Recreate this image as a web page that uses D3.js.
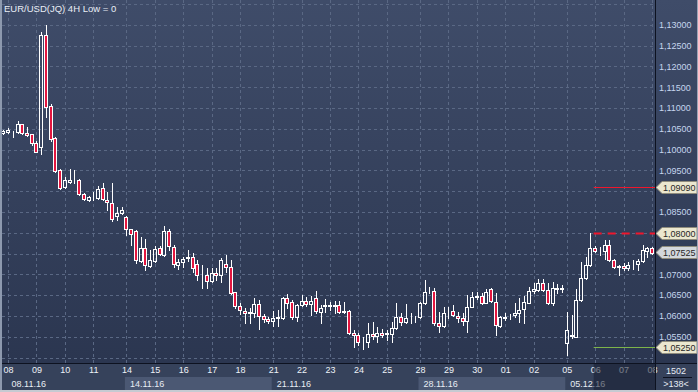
<!DOCTYPE html>
<html><head><meta charset="utf-8">
<script src="https://cdn.jsdelivr.net/npm/d3@7"></script>
<style>html,body{margin:0;padding:0;background:#2e3a55;overflow:hidden}svg{display:block}</style>
</head><body><svg id="c" width="698" height="392"></svg>
<script>
const title = "EUR/USD(JQ) 4H Low = 0";
const sessionDates = ["07.11.16","08.11.16","09.11.16","10.11.16","11.11.16","13.11.16","14.11.16","15.11.16","16.11.16","17.11.16","18.11.16","20.11.16","21.11.16","22.11.16","23.11.16","24.11.16","25.11.16","27.11.16","28.11.16","29.11.16","30.11.16","01.12.16","02.12.16","04.12.16","05.12.16","06.12.16","07.12.16","08.12.16"];
const sessionBars = [1,6,6,6,6,1,6,6,6,6,6,1,6,6,6,6,6,1,6,6,6,6,6,1,6,6,6,1];
const dayTicks = ["08.11.16","09.11.16","10.11.16","11.11.16","14.11.16","15.11.16","16.11.16","17.11.16","18.11.16","21.11.16","22.11.16","23.11.16","24.11.16","25.11.16","28.11.16","29.11.16","30.11.16","01.12.16","02.12.16","05.12.16","06.12.16","07.12.16","08.12.16"];
const weekStarts = ["08.11.16","14.11.16","21.11.16","28.11.16","05.12.16"];
const markDay = "06.12.16";

const open = [1.1040,1.1042,1.1042,1.1041,1.1061,1.1039,1.1037,1.1015,1.1007,1.1275,1.1105,1.1028,1.0951,1.0909,1.0923,1.0924,1.0927,1.0893,1.0879,1.0885,1.0883,1.0907,1.0879,1.0871,1.0840,1.0847,1.0837,1.0808,1.0805,1.0733,1.0763,1.0720,1.0733,1.0763,1.0746,1.0803,1.0766,1.0723,1.0730,1.0740,1.0741,1.0724,1.0698,1.0698,1.0683,1.0702,1.0698,1.0724,1.0717,1.0657,1.0623,1.0613,1.0608,1.0606,1.0629,1.0599,1.0592,1.0588,1.0596,1.0594,1.0642,1.0633,1.0598,1.0626,1.0637,1.0629,1.0642,1.0610,1.0625,1.0625,1.0625,1.0626,1.0610,1.0611,1.0558,1.0554,1.0542,1.0538,1.0557,1.0552,1.0560,1.0557,1.0556,1.0570,1.0597,1.0586,1.0592,1.0594,1.0598,1.0630,1.0660,1.0661,1.0582,1.0575,1.0609,1.0612,1.0600,1.0594,1.0588,1.0622,1.0647,1.0647,1.0632,1.0664,1.0634,1.0576,1.0596,1.0597,1.0603,1.0608,1.0616,1.0632,1.0660,1.0662,1.0678,1.0662,1.0632,1.0665,1.0665,1.0534,1.0552,1.0550,1.0638,1.0690,1.0722,1.0763,1.0756,1.0756,1.0770,1.0734,1.0717,1.0721,1.0714,1.0724,1.0724,1.0733,1.0757,1.0763];
const high = [1.1047,1.1052,1.1045,1.1069,1.1062,1.1055,1.1037,1.1021,1.1282,1.1299,1.1109,1.1029,1.0952,1.0935,1.0953,1.0951,1.0929,1.0895,1.0888,1.0899,1.0913,1.0919,1.0899,1.0919,1.0863,1.0861,1.0840,1.0810,1.0807,1.0789,1.0784,1.0758,1.0768,1.0768,1.0816,1.0810,1.0770,1.0738,1.0742,1.0758,1.0751,1.0734,1.0722,1.0714,1.0714,1.0715,1.0739,1.0746,1.0734,1.0658,1.0630,1.0618,1.0618,1.0642,1.0638,1.0605,1.0597,1.0612,1.0614,1.0645,1.0652,1.0638,1.0628,1.0650,1.0646,1.0648,1.0660,1.0626,1.0640,1.0634,1.0637,1.0636,1.0634,1.0614,1.0566,1.0558,1.0549,1.0584,1.0586,1.0574,1.0568,1.0565,1.0586,1.0630,1.0606,1.0629,1.0606,1.0600,1.0634,1.0686,1.0670,1.0666,1.0610,1.0622,1.0622,1.0626,1.0610,1.0606,1.0650,1.0658,1.0658,1.0654,1.0664,1.0666,1.0654,1.0600,1.0606,1.0605,1.0630,1.0642,1.0648,1.0669,1.0678,1.0688,1.0688,1.0678,1.0682,1.0677,1.0675,1.0609,1.0602,1.0664,1.0730,1.0742,1.0799,1.0768,1.0766,1.0783,1.0783,1.0737,1.0722,1.0727,1.0730,1.0734,1.0738,1.0770,1.0766,1.0766];
const low = [1.1037,1.1039,1.1029,1.1040,1.1037,1.1033,1.1011,1.0993,1.0989,1.1079,1.1021,1.0946,1.0905,1.0907,1.0920,1.0920,1.0891,1.0879,1.0876,1.0879,1.0881,1.0879,1.0855,1.0829,1.0831,1.0845,1.0794,1.0770,1.0726,1.0730,1.0710,1.0717,1.0730,1.0746,1.0744,1.0758,1.0718,1.0712,1.0718,1.0733,1.0706,1.0686,1.0666,1.0667,1.0681,1.0686,1.0682,1.0706,1.0653,1.0618,1.0605,1.0583,1.0582,1.0597,1.0568,1.0586,1.0584,1.0576,1.0576,1.0593,1.0618,1.0593,1.0588,1.0625,1.0624,1.0602,1.0608,1.0584,1.0610,1.0614,1.0608,1.0607,1.0608,1.0557,1.0525,1.0530,1.0520,1.0526,1.0544,1.0537,1.0550,1.0542,1.0538,1.0569,1.0579,1.0583,1.0582,1.0586,1.0595,1.0629,1.0655,1.0578,1.0562,1.0574,1.0594,1.0600,1.0586,1.0578,1.0562,1.0621,1.0641,1.0629,1.0630,1.0634,1.0554,1.0573,1.0590,1.0592,1.0598,1.0586,1.0582,1.0630,1.0656,1.0660,1.0661,1.0629,1.0626,1.0656,1.0658,1.0506,1.0547,1.0549,1.0636,1.0689,1.0720,1.0754,1.0746,1.0736,1.0732,1.0715,1.0698,1.0710,1.0710,1.0712,1.0710,1.0730,1.0742,1.0750];
const close = [1.1045,1.1047,1.1041,1.1061,1.1039,1.1034,1.1015,1.0994,1.1275,1.1103,1.1026,1.0949,1.0908,1.0927,1.0926,1.0925,1.0892,1.0881,1.0885,1.0886,1.0904,1.0880,1.0873,1.0832,1.0848,1.0855,1.0808,1.0796,1.0734,1.0763,1.0722,1.0734,1.0760,1.0749,1.0803,1.0768,1.0724,1.0730,1.0736,1.0741,1.0716,1.0698,1.0699,1.0683,1.0702,1.0698,1.0734,1.0717,1.0656,1.0623,1.0614,1.0608,1.0609,1.0629,1.0600,1.0592,1.0587,1.0596,1.0597,1.0642,1.0632,1.0598,1.0626,1.0637,1.0629,1.0637,1.0611,1.0618,1.0626,1.0626,1.0626,1.0609,1.0611,1.0558,1.0553,1.0538,1.0541,1.0557,1.0552,1.0560,1.0554,1.0558,1.0570,1.0597,1.0586,1.0594,1.0593,1.0595,1.0630,1.0658,1.0661,1.0582,1.0576,1.0608,1.0610,1.0603,1.0595,1.0587,1.0622,1.0645,1.0646,1.0632,1.0657,1.0636,1.0578,1.0597,1.0597,1.0598,1.0608,1.0614,1.0634,1.0660,1.0664,1.0678,1.0662,1.0630,1.0666,1.0666,1.0666,1.0566,1.0553,1.0638,1.0690,1.0722,1.0763,1.0756,1.0757,1.0770,1.0734,1.0717,1.0721,1.0715,1.0723,1.0725,1.0733,1.0758,1.0763,1.0752];

const yLabels = [1.13,1.125,1.12,1.115,1.11,1.105,1.10,1.095,1.085,1.07,1.065,1.06,1.055];
const flagValues = [1.0909,1.08,1.07525,1.0525];
const flagFills = ["#ebe7cf","#ebe7cf","#d3d7dc","#ebe7cf"];
const levelValues = [1.0909,1.08,1.0525];
const levelColors = ["#f0162c","#f0162c","#7db44a"];
const levelDash = ["none","8,6","none"];
const infoTop = "1502";
const infoBottom = ">138<";

// ---------- layout ----------
const W = 698, H = 392, PR = 655, PB = 363, AB = 390;
const svg = d3.select("#c");
const font = "'Liberation Sans', Arial, sans-serif";

const barDate = [];
sessionDates.forEach((d, k) => { for (let j = 0; j < sessionBars[k]; j++) barDate.push(d); });
const N = barDate.length;
const firstBar = d => barDate.indexOf(d);

const x = d3.scaleLinear().domain([0, N - 1]).range([3.3, 652]);
const y = d3.scaleLinear().domain([1.04868, 1.13594]).range([PB, 0]);
const fmt = v => d3.format(".5f")(v).replace(".", ",");

const defs = svg.append("defs");
const g = defs.append("linearGradient").attr("id", "bg").attr("x1", 0).attr("y1", 0).attr("x2", 0).attr("y2", 1);
g.append("stop").attr("offset", "0%").attr("stop-color", "#3f4c69");
g.append("stop").attr("offset", "100%").attr("stop-color", "#2b3650");
defs.append("clipPath").attr("id", "plotclip").append("rect").attr("x", 2).attr("y", 0).attr("width", PR - 2).attr("height", PB);

svg.append("rect").attr("width", W).attr("height", PB).attr("fill", "url(#bg)");
svg.append("rect").attr("x", 0).attr("y", PB).attr("width", W).attr("height", AB - PB).attr("fill", "#36425b");

// grid
const grid = svg.append("g").attr("stroke", "#5a6884").attr("stroke-width", 1).attr("stroke-dasharray", "3,3");
grid.selectAll("line.h").data(d3.range(1.05, 1.1351, 0.005)).join("line")
  .attr("x1", 2).attr("x2", PR).attr("y1", d => Math.round(y(d)) + 0.5).attr("y2", d => Math.round(y(d)) + 0.5);
grid.selectAll("line.v").data(dayTicks).join("line")
  .attr("x1", d => Math.round(x(firstBar(d))) + 0.5).attr("x2", d => Math.round(x(firstBar(d))) + 0.5)
  .attr("y1", 0).attr("y2", PB);

// level lines
const markX = x(firstBar(markDay)) - 1.5;
svg.append("g").selectAll("line").data(levelValues).join("line")
  .attr("x1", markX).attr("x2", PR).attr("y1", d => Math.round(y(d)) + 0.5).attr("y2", d => Math.round(y(d)) + 0.5)
  .attr("stroke", (d, i) => levelColors[i]).attr("stroke-width", (d, i) => i === 1 ? 2 : 1.2)
  .attr("stroke-dasharray", (d, i) => levelDash[i]);

// candles
const candles = svg.append("g").attr("clip-path", "url(#plotclip)");
d3.range(N).forEach(i => {
  const cx = Math.round(x(i));
  const top = Math.round(y(Math.max(open[i], close[i])));
  const bot = Math.round(y(Math.min(open[i], close[i])));
  const hi = Math.round(y(high[i])), lo = Math.round(y(low[i]));
  const bear = close[i] < open[i];
  if (hi < top) candles.append("line").attr("x1", cx + 0.5).attr("x2", cx + 0.5).attr("y1", hi).attr("y2", top).attr("stroke", "#fff");
  if (lo > bot) candles.append("line").attr("x1", cx + 0.5).attr("x2", cx + 0.5).attr("y1", bot).attr("y2", lo + 1).attr("stroke", "#fff");
  candles.append("rect").attr("x", cx - 1.5).attr("y", top + 0.5).attr("width", 3).attr("height", Math.max(0, bot - top))
    .attr("fill", bear ? "#e3163f" : "none").attr("stroke", "#fff").attr("stroke-width", 1);
});

// title
svg.append("text").attr("x", 4).attr("y", 12).attr("font-family", font).attr("font-size", 9.5).attr("fill", "#e9eef6").text(title);

// right axis
const ya = svg.append("g").attr("transform", `translate(${PR},0)`)
  .call(d3.axisRight(y).tickValues(yLabels).tickSize(0).tickPadding(4).tickFormat(fmt));
ya.select(".domain").remove();
ya.selectAll("text").attr("font-family", font).attr("font-size", 9).attr("fill", "#c5d6ee");

// flags
const flags = svg.append("g").selectAll("g").data(flagValues).join("g")
  .attr("transform", d => `translate(0,${Math.round(y(d)) + 0.5})`);
flags.append("path").attr("d", "M656,0 L662,-6 L697,-6 L697,6 L662,6 Z")
  .attr("fill", (d, i) => flagFills[i]).attr("stroke", "#8f8c7c").attr("stroke-width", 1);
flags.append("text").attr("x", 663).attr("y", 0).attr("dy", "0.35em").attr("font-family", font).attr("font-size", 9)
  .attr("fill", "#262626").text(fmt);

// week bands
svg.append("g").selectAll("rect").data(weekStarts).join("rect")
  .attr("x", d => x(firstBar(d)) - 1.5).attr("y", 377)
  .attr("width", (d, i) => (i + 1 < weekStarts.length ? x(firstBar(weekStarts[i + 1])) - 1.5 : PR) - (x(firstBar(d)) - 1.5))
  .attr("height", AB - 377).attr("fill", (d, i) => i % 2 ? "#4b5873" : "none");

// day labels
const xa = svg.append("g").attr("transform", `translate(0,${PB})`)
  .call(d3.axisBottom(x).tickValues(dayTicks.map(firstBar)).tickSize(0).tickPadding(4).tickFormat(i => barDate[i].slice(0, 2)));
xa.select(".domain").remove();
xa.selectAll("text").attr("font-family", font).attr("font-size", 9).attr("fill", "#eef2f8");

// week labels
svg.append("g").selectAll("text").data(weekStarts).join("text")
  .attr("x", d => x(firstBar(d)) + 3.5).attr("y", 386.5).attr("font-family", font).attr("font-size", 9)
  .attr("fill", "#e8edf4").text(d => d);

// dim overlay on current day region
svg.append("rect").attr("x", markX).attr("y", PB).attr("width", PR - markX).attr("height", AB - PB)
  .attr("fill", "#151d30").attr("opacity", 0.55);

// separators
svg.append("line").attr("x1", 0).attr("x2", W).attr("y1", PB + 0.5).attr("y2", PB + 0.5).attr("stroke", "#0d1220");
svg.append("line").attr("x1", PR + 0.5).attr("x2", PR + 0.5).attr("y1", 0).attr("y2", AB).attr("stroke", "#0d1220");

// info box bottom-right
svg.append("text").attr("x", 676).attr("y", 374).attr("text-anchor", "middle").attr("font-family", font).attr("font-size", 9).attr("fill", "#e6ecf4").text(infoTop);
svg.append("line").attr("x1", 663).attr("x2", 692).attr("y1", 377.5).attr("y2", 377.5).attr("stroke", "#0d1220");
svg.append("text").attr("x", 676).attr("y", 386.5).attr("text-anchor", "middle").attr("font-family", font).attr("font-size", 9).attr("fill", "#e6ecf4").text(infoBottom);

// frame
svg.append("rect").attr("x", 0).attr("y", 0).attr("width", 2).attr("height", H).attr("fill", "#8d99ae");
svg.append("rect").attr("x", 0).attr("y", AB).attr("width", W).attr("height", H - AB).attr("fill", "#c6cad2");
svg.append("rect").attr("x", W - 1).attr("y", 0).attr("width", 1).attr("height", H).attr("fill", "#9aa4b6");
</script></body></html>
